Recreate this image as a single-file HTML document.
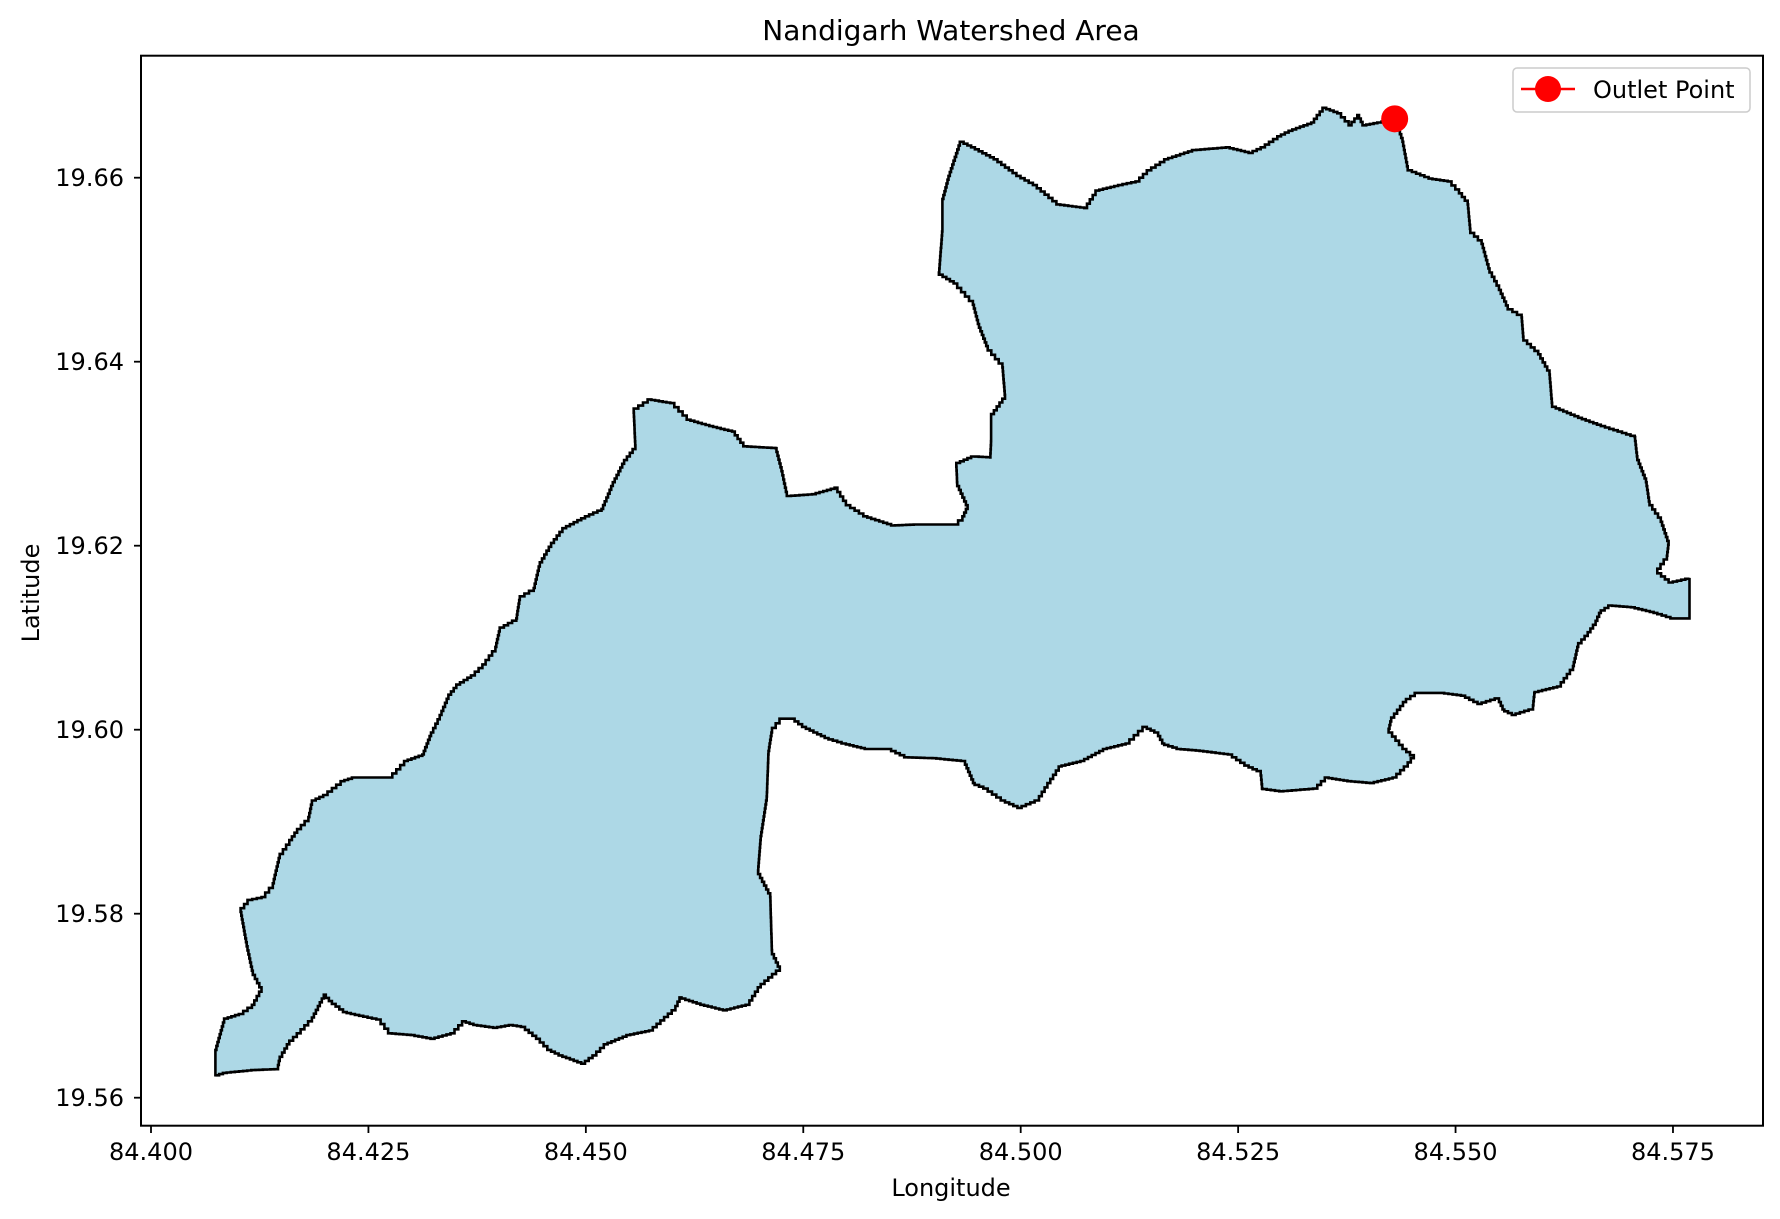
<!DOCTYPE html>
<html><head><meta charset="utf-8"><style>
html,body{margin:0;padding:0;background:#fff;}
svg{display:block;font-family:"DejaVu Sans","Liberation Sans",sans-serif;}
</style></head><body>
<svg id="chart" width="1780" height="1219" viewBox="0 0 1780 1219">
<rect x="0" y="0" width="1780" height="1219" fill="#fff"/>
<g id="plot"></g>
<rect x="141" y="55.7" width="1622" height="1070" fill="none" stroke="#000" stroke-width="2"/>
<g id="xticks"></g>
<g id="yticks"></g>
<text x="951" y="40" font-size="28" text-anchor="middle">Nandigarh Watershed Area</text>
<text x="951" y="1196" font-size="24" text-anchor="middle">Longitude</text>
<text x="0" y="0" font-size="24" text-anchor="middle" transform="translate(39,593) rotate(-90)">Latitude</text>
<g>
<rect x="1513" y="68" width="237" height="44" rx="4" fill="#fff" fill-opacity="0.8" stroke="#ccc" stroke-width="1.5"/>
<line x1="1521" y1="89" x2="1575" y2="89" stroke="#ff0000" stroke-width="2.5"/>
<circle cx="1548" cy="89" r="13" fill="#ff0000"/>
<text x="1593" y="98" font-size="24">Outlet Point</text>
</g>
</svg>
<script>
const lons=[84.4074,84.4074,84.4084,84.4101,84.4116,84.4127,84.4117,84.4110,84.4103,84.4111,84.4127,84.4140,84.4148,84.4159,84.4168,84.4181,84.4185,84.4198,84.4218,84.4231,84.4273,84.4291,84.4312,84.4322,84.4332,84.4342,84.4351,84.4368,84.4381,84.4396,84.4401,84.4420,84.4424,84.4440,84.4447,84.4460,84.4473,84.4499,84.4518,84.4531,84.4544,84.4557,84.4555,84.4571,84.4597,84.4616,84.4642,84.4668,84.4681,84.4718,84.4725,84.4731,84.4760,84.4786,84.4799,84.4819,84.4851,84.4877,84.4923,84.4933,84.4939,84.4927,84.4926,84.4943,84.4965,84.4966,84.4966,84.4982,84.4979,84.4962,84.4952,84.4945,84.4927,84.4906,84.4910,84.4910,84.4917,84.4930,84.4943,84.4969,84.4995,84.5014,84.5041,84.5073,84.5086,84.5112,84.5132,84.5145,84.5165,84.5197,84.5236,84.5262,84.5276,84.5295,84.5308,84.5334,84.5347,84.5364,84.5377,84.5387,84.5393,84.5410,84.5430,84.5439,84.5445,84.5469,84.5491,84.5504,84.5514,84.5517,84.5530,84.5539,84.5550,84.5560,84.5576,84.5578,84.5595,84.5608,84.5611,84.5641,84.5667,84.5706,84.5709,84.5719,84.5723,84.5736,84.5745,84.5743,84.5732,84.5745,84.5769,84.5769,84.5752,84.5732,84.5706,84.5680,84.5667,84.5661,84.5652,84.5641,84.5635,84.5621,84.5591,84.5589,84.5569,84.5556,84.5550,84.5530,84.5511,84.5487,84.5458,84.5443,84.5426,84.5423,84.5439,84.5452,84.5445,84.5432,84.5406,84.5380,84.5354,84.5341,84.5302,84.5278,84.5276,84.5262,84.5243,84.5210,84.5184,84.5165,84.5158,84.5145,84.5125,84.5099,84.5073,84.5047,84.5034,84.5021,84.5001,84.4982,84.4962,84.4947,84.4936,84.4903,84.4871,84.4851,84.4825,84.4799,84.4779,84.4753,84.4740,84.4727,84.4714,84.4710,84.4708,84.4701,84.4698,84.4712,84.4714,84.4723,84.4701,84.4688,84.4662,84.4636,84.4610,84.4603,84.4577,84.4551,84.4525,84.4512,84.4499,84.4473,84.4460,84.4447,84.4430,84.4416,84.4398,84.4375,84.4362,84.4349,84.4326,84.4303,84.4277,84.4264,84.4244,84.4225,84.4208,84.4201,84.4185,84.4172,84.4159,84.4148,84.4146,84.4120,84.4087];
const lats=[19.5623,19.5652,19.5686,19.5691,19.5701,19.5720,19.5738,19.5769,19.5806,19.5815,19.5818,19.5833,19.5865,19.5880,19.5892,19.5905,19.5923,19.5929,19.5944,19.5948,19.5948,19.5966,19.5973,19.5997,19.6016,19.6038,19.6049,19.6059,19.6071,19.6090,19.6111,19.6121,19.6145,19.6154,19.6182,19.6203,19.6219,19.6232,19.6240,19.6269,19.6293,19.6309,19.6349,19.6359,19.6355,19.6337,19.6330,19.6324,19.6308,19.6306,19.6281,19.6254,19.6256,19.6263,19.6244,19.6232,19.6222,19.6223,19.6223,19.6232,19.6244,19.6269,19.6290,19.6297,19.6296,19.6318,19.6343,19.6364,19.6398,19.6417,19.6441,19.6466,19.6485,19.6497,19.6546,19.6577,19.6602,19.6639,19.6633,19.6620,19.6602,19.6592,19.6571,19.6567,19.6586,19.6592,19.6596,19.6608,19.6620,19.6630,19.6633,19.6627,19.6633,19.6645,19.6651,19.6660,19.6676,19.6670,19.6657,19.6668,19.6657,19.6660,19.6664,19.6639,19.6608,19.6599,19.6596,19.6583,19.6571,19.6540,19.6528,19.6497,19.6478,19.6457,19.6448,19.6423,19.6408,19.6386,19.6351,19.6339,19.6330,19.6318,19.6293,19.6269,19.6244,19.6226,19.6201,19.6185,19.6170,19.6160,19.6165,19.6121,19.6121,19.6127,19.6133,19.6135,19.6127,19.6114,19.6102,19.6090,19.6065,19.6047,19.6040,19.6022,19.6016,19.6022,19.6034,19.6028,19.6037,19.6040,19.6040,19.6030,19.6009,19.5997,19.5979,19.5969,19.5960,19.5948,19.5942,19.5944,19.5948,19.5936,19.5933,19.5936,19.5955,19.5961,19.5973,19.5977,19.5979,19.5985,19.5997,19.6003,19.5985,19.5979,19.5966,19.5960,19.5942,19.5923,19.5915,19.5923,19.5936,19.5942,19.5966,19.5969,19.5970,19.5979,19.5979,19.5985,19.5991,19.6003,19.6012,19.6012,19.5997,19.5973,19.5923,19.5880,19.5843,19.5818,19.5756,19.5738,19.5720,19.5701,19.5695,19.5701,19.5709,19.5695,19.5673,19.5668,19.5658,19.5646,19.5637,19.5646,19.5652,19.5664,19.5677,19.5679,19.5676,19.5679,19.5683,19.5670,19.5664,19.5668,19.5670,19.5685,19.5689,19.5693,19.5705,19.5712,19.5683,19.5670,19.5658,19.5640,19.5631,19.5630,19.5627];
const outletLon=[84.5430];
const outletLat=[19.6664];
const xTickVals=[84.400,84.425,84.450,84.475,84.500,84.525,84.550,84.575];
const xTickLabels=["84.400","84.425","84.450","84.475","84.500","84.525","84.550","84.575"];
const yTickVals=[19.56,19.58,19.60,19.62,19.64,19.66];
const yTickLabels=["19.56","19.58","19.60","19.62","19.64","19.66"];

const NS='http://www.w3.org/2000/svg';
function xs(v){return 151+(v-84.4)*8697;}
function ys(v){return 177.7+(19.66-v)*9200;}
const plot=document.getElementById('plot');
// staircase path (raster-derived outline look)
const STEP=4;
let d='';
let px=xs(lons[0]),py=ys(lats[0]);
d+='M'+px.toFixed(1)+' '+py.toFixed(1);
for(let i=1;i<=lons.length;i++){
  const j=i%lons.length;
  const nx=xs(lons[j]),ny=ys(lats[j]);
  const n=Math.max(1,Math.round(Math.max(Math.abs(nx-px),Math.abs(ny-py))/STEP));
  for(let k=1;k<=n;k++){
    const tx=px+(nx-px)*k/n, ty=py+(ny-py)*k/n;
    d+='H'+tx.toFixed(1)+'V'+ty.toFixed(1);
  }
  px=nx;py=ny;
}
d+='Z';
const poly=document.createElementNS(NS,'path');
poly.setAttribute('d',d);
poly.setAttribute('fill','#add8e6');
poly.setAttribute('stroke','#000');
poly.setAttribute('stroke-width','2.6');
poly.setAttribute('stroke-linejoin','miter');


plot.appendChild(poly);
for(let i=0;i<outletLon.length;i++){
  const c=document.createElementNS(NS,'circle');
  c.setAttribute('cx',xs(outletLon[i]));
  c.setAttribute('cy',ys(outletLat[i]));
  c.setAttribute('r','13.5');
  c.setAttribute('fill','#ff0000');
  
  
  plot.appendChild(c);
}
const xg=document.getElementById('xticks');
xTickVals.forEach((v,i)=>{
  const x=xs(v);
  const l=document.createElementNS(NS,'line');
  l.setAttribute('x1',x);l.setAttribute('x2',x);l.setAttribute('y1',1126);l.setAttribute('y2',1133);
  l.setAttribute('stroke','#000');l.setAttribute('stroke-width','1.8');
  
  
  xg.appendChild(l);
  const t=document.createElementNS(NS,'text');
  t.setAttribute('x',x);t.setAttribute('y',1160);t.setAttribute('font-size','24');t.setAttribute('text-anchor','middle');
  t.textContent=xTickLabels[i];
  
  
  xg.appendChild(t);
});
const yg=document.getElementById('yticks');
yTickVals.forEach((v,i)=>{
  const y=ys(v);
  const l=document.createElementNS(NS,'line');
  l.setAttribute('x1',134);l.setAttribute('x2',141);l.setAttribute('y1',y);l.setAttribute('y2',y);
  l.setAttribute('stroke','#000');l.setAttribute('stroke-width','1.8');
  
  
  yg.appendChild(l);
  const t=document.createElementNS(NS,'text');
  t.setAttribute('x',124);t.setAttribute('y',y+8.5);t.setAttribute('font-size','24');t.setAttribute('text-anchor','end');
  t.textContent=yTickLabels[i];
  
  
  yg.appendChild(t);
});
</script>
</body></html>
